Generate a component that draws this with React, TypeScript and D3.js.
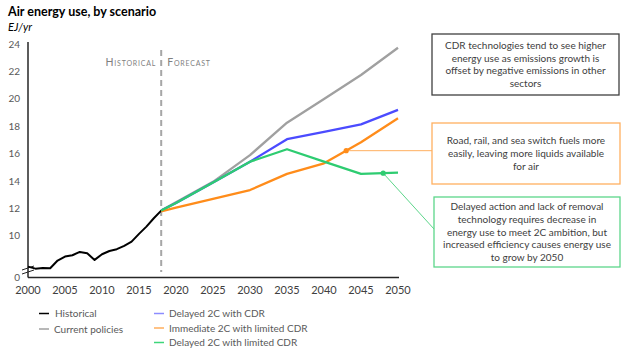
import React from "react";
import * as d3 from "d3";

const histYears = [2000, 2001, 2002, 2003, 2004, 2005, 2006, 2007, 2008, 2009, 2010, 2011, 2012, 2013, 2014, 2015, 2016, 2017, 2018];
const histValues = [7.76, 7.61, 7.66, 7.64, 8.2, 8.49, 8.59, 8.83, 8.73, 8.25, 8.66, 8.9, 9.03, 9.27, 9.58, 10.15, 10.68, 11.29, 11.85];

const fcYears = [2018, 2020, 2025, 2030, 2035, 2040, 2045, 2050];
const currentPolicies = [11.85, 12.45, 13.95, 15.9, 18.27, 20.0, 21.75, 23.74];
const delayedCDR = [11.85, 12.4, 13.9, 15.42, 17.06, 17.6, 18.15, 19.2];
const immediateLimited = [11.8, 12.06, 12.7, 13.35, 14.53, 15.3, 16.84, 18.59];
const delayedLimited = [11.85, 12.4, 13.9, 15.42, 16.33, 15.43, 14.53, 14.62];

const yTicks = [10, 12, 14, 16, 18, 20, 22, 24];
const xTicks = [2000, 2005, 2010, 2015, 2020, 2025, 2030, 2035, 2040, 2045, 2050];

const splitYear = 2018;

const notes = [
  {
    lines: ["CDR technologies tend to see higher", "energy use as emissions growth is", "offset by negative emissions in other", "sectors"],
    color: "#404040",
    box: [432, 34, 187, 61],
    year: null as number | null,
    series: null as number[] | null,
  },
  {
    lines: ["Road, rail, and sea switch fuels more", "easily, leaving more liquids available", "for air"],
    color: "#FFB060",
    box: [432, 123, 188, 61],
    year: 2043,
    series: immediateLimited,
  },
  {
    lines: ["Delayed action and lack of removal", "technology requires decrease in", "energy use to meet  2C ambition, but", "increased efficiency causes energy use", "to grow by 2050"],
    color: "#5CD68A",
    box: [434, 197, 186, 70],
    year: 2048,
    series: delayedLimited,
  },
];

const seriesDefs = [
  { name: "Current policies", values: currentPolicies, color: "#A0A0A0", legend: "#A0A0A0" },
  { name: "Delayed 2C with CDR", values: delayedCDR, color: "#4B4BFF", legend: "#8C8CFF" },
  { name: "Immediate 2C with limited CDR", values: immediateLimited, color: "#FF8C1A", legend: "#FFAE5C" },
  { name: "Delayed 2C with limited CDR", values: delayedLimited, color: "#2ECC71", legend: "#3DD67A" },
];

export default function App() {
  const x = d3.scaleLinear().domain([2000, 2050]).range([28, 398]);
  const y = d3.scaleLinear().domain([7, 24]).range([277, 44.2]);
  const line = d3
    .line<[number, number]>()
    .x((d) => x(d[0]))
    .y((d) => y(d[1]));
  const font = "Lato, 'Open Sans', sans-serif";

  const valAt = (yrs: number[], vals: number[], yr: number) => {
    const i = d3.bisectRight(yrs, yr) - 1;
    const j = Math.min(i + 1, yrs.length - 1);
    if (i === j) return vals[i];
    const t = (yr - yrs[i]) / (yrs[j] - yrs[i]);
    return vals[i] + t * (vals[j] - vals[i]);
  };

  return (
    <svg width={624} height={357} style={{ position: "absolute", left: 0, top: 0, background: "#fff" }} fontFamily={font}>
      <text x={8} y={16} fontSize={12.5} fontWeight="bold" fill="#000">Air energy use, by scenario</text>
      <text x={8} y={31} fontSize={11} fontStyle="italic" fill="#000">EJ/yr</text>

      {/* y tick labels */}
      {yTicks.map((t) => (
        <text key={t} x={20} y={y(t) + 3.5} fontSize={10} fill="#595959" textAnchor="end">{t}</text>
      ))}
      <text x={20} y={y(7) + 3.5} fontSize={10} fill="#595959" textAnchor="end">0</text>

      {/* x tick labels */}
      {xTicks.map((t) => (
        <text key={t} x={x(t)} y={294} fontSize={11} fill="#404040" textAnchor="middle">{t}</text>
      ))}

      {/* dashed divider */}
      <line x1={x(splitYear)} x2={x(splitYear)} y1={50} y2={272} stroke="#A6A6A6" strokeWidth={2} strokeDasharray="6,4" />
      <text x={x(splitYear) - 5} y={66} fontSize={10.5} fill="#7F7F7F" textAnchor="end" style={{ fontVariant: "small-caps", letterSpacing: "0.8px" }}>Historical</text>
      <text x={x(splitYear) + 6} y={66} fontSize={10.5} fill="#7F7F7F" textAnchor="start" style={{ fontVariant: "small-caps", letterSpacing: "0.8px" }}>Forecast</text>

      {/* axes */}
      <line x1={x(2000)} x2={x(2000)} y1={42} y2={277.5} stroke="#262626" strokeWidth={1.5} />
      <line x1={x(2000)} x2={x(2050) + 1} y1={277.5} y2={277.5} stroke="#262626" strokeWidth={1.5} />
      {/* axis break */}
      <line x1={22} x2={34} y1={270} y2={266} stroke="#262626" strokeWidth={1} />
      <line x1={22} x2={34} y1={274} y2={270} stroke="#262626" strokeWidth={1} />

      {/* historical */}
      <path d={line(histYears.map((yr, i) => [yr, histValues[i]]) as [number, number][]) || ""} fill="none" stroke="#000" strokeWidth={2} strokeLinejoin="round" />

      {/* scenarios */}
      {seriesDefs.map((s) => (
        <path key={s.name} d={line(fcYears.map((yr, i) => [yr, s.values[i]]) as [number, number][]) || ""} fill="none" stroke={s.color} strokeWidth={2.3} strokeLinejoin="round" />
      ))}

      {/* annotations */}
      {notes.map((n, k) => {
        const [bx, by, bw, bh] = n.box;
        const lh = n.lines.length === 5 ? 12.8 : 12.6;
        const startY = by + (bh - lh * (n.lines.length - 1)) / 2 + 3.5;
        let connector = null;
        if (n.year !== null && n.series) {
          const px = x(n.year);
          const py = y(valAt(fcYears, n.series, n.year));
          const ty = k === 1 ? py : by + 32;
          connector = (
            <g>
              <line x1={px} y1={py} x2={bx} y2={ty} stroke={n.color} strokeWidth={1} />
              <circle cx={px} cy={py} r={2.6} fill={k === 1 ? "#FF8C1A" : "#2ECC71"} />
            </g>
          );
        }
        return (
          <g key={k}>
            {connector}
            <rect x={bx} y={by} width={bw} height={bh} fill="#fff" stroke={n.color} strokeWidth={1.3} />
            {n.lines.map((l, i) => (
              <text key={i} x={bx + bw / 2} y={startY + i * lh} fontSize={10} fill="#404040" textAnchor="middle">{l}</text>
            ))}
          </g>
        );
      })}

      {/* legend */}
      <line x1={39} x2={49} y1={313.5} y2={313.5} stroke="#000" strokeWidth={1.5} />
      <text x={55} y={317} fontSize={10} fill="#595959">Historical</text>
      <line x1={39} x2={49} y1={329} y2={329} stroke={seriesDefs[0].legend} strokeWidth={1.5} />
      <text x={54} y={332.5} fontSize={10} fill="#595959">{seriesDefs[0].name}</text>
      {seriesDefs.slice(1).map((s, i) => (
        <g key={s.name}>
          <line x1={154} x2={164} y1={313.5 + i * 14.5} y2={313.5 + i * 14.5} stroke={s.legend} strokeWidth={1.5} />
          <text x={169} y={317 + i * 14.5} fontSize={10} fill="#595959">{s.name}</text>
        </g>
      ))}
    </svg>
  );
}
